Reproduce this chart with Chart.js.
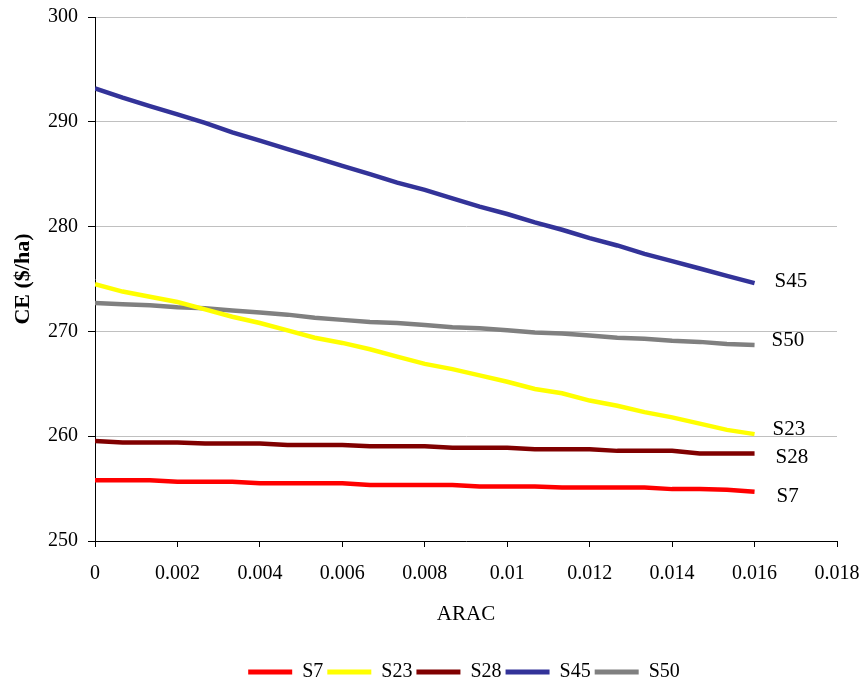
<!DOCTYPE html>
<html>
<head>
<meta charset="utf-8">
<script src="https://cdn.jsdelivr.net/npm/chart.js@4/dist/chart.umd.min.js"></script>
<style>
  html, body { margin: 0; padding: 0; background: #fff; }
  canvas { display: block; }
</style>
</head>
<body>
<canvas id="c" width="864" height="686"></canvas>
<script>
// ---- data ----
const seriesNames = ['S7', 'S23', 'S28', 'S45', 'S50'];
const aracValues = [0, 0.00067, 0.00133, 0.002, 0.00267, 0.00333, 0.004, 0.00467, 0.00533,
  0.006, 0.00667, 0.00733, 0.008, 0.00867, 0.00933, 0.01, 0.01067, 0.01133, 0.012,
  0.01267, 0.01333, 0.014, 0.01467, 0.01533, 0.016];
const s7 = [255.8, 255.8, 255.8, 255.65, 255.65, 255.65, 255.5, 255.5, 255.5, 255.5,
  255.35, 255.35, 255.35, 255.35, 255.2, 255.2, 255.2, 255.1, 255.1, 255.1, 255.1,
  254.95, 254.95, 254.9, 254.7];
const s23 = [274.5, 273.8, 273.3, 272.8, 272.1, 271.4, 270.8, 270.1, 269.4, 268.9,
  268.3, 267.6, 266.9, 266.4, 265.8, 265.2, 264.5, 264.1, 263.4, 262.9, 262.3,
  261.8, 261.2, 260.6, 260.2];
const s28 = [259.55, 259.4, 259.4, 259.4, 259.3, 259.3, 259.3, 259.15, 259.15, 259.15,
  259.05, 259.05, 259.05, 258.9, 258.9, 258.9, 258.75, 258.75, 258.75, 258.6, 258.6,
  258.6, 258.35, 258.35, 258.35];
const s45 = [293.2, 292.3, 291.5, 290.7, 289.9, 289.0, 288.2, 287.4, 286.6, 285.8,
  285.0, 284.2, 283.5, 282.7, 281.9, 281.2, 280.4, 279.7, 278.9, 278.2, 277.4,
  276.7, 276.0, 275.3, 274.6];
const s50 = [272.7, 272.6, 272.5, 272.3, 272.2, 272.0, 271.8, 271.6, 271.3, 271.1,
  270.9, 270.8, 270.6, 270.4, 270.3, 270.1, 269.9, 269.8, 269.6, 269.4, 269.3,
  269.1, 269.0, 268.8, 268.7];
const xTickLabels = ['0', '0.002', '0.004', '0.006', '0.008', '0.01', '0.012', '0.014', '0.016', '0.018'];
const yTickLabels = ['250', '260', '270', '280', '290', '300'];
const xTitle = 'ARAC';
const yTitle = 'CE ($/ha)';

// ---- styles ----
const seriesValues = [s7, s23, s28, s45, s50];
const seriesColors = ['#FF0000', '#FFFF00', '#800000', '#333399', '#808080'];
const FONT = "'Liberation Serif', 'Times New Roman', serif";
Chart.defaults.font.family = FONT;
Chart.defaults.color = '#000';

const datasets = seriesNames.map((name, i) => ({
  label: name,
  data: aracValues.map((x, j) => ({ x: x, y: seriesValues[i][j] })),
  borderColor: seriesColors[i],
  backgroundColor: seriesColors[i],
  borderWidth: 4.5,
  pointRadius: 0,
  tension: 0,
  fill: false
}));

// label offsets relative to each series' last point (style only)
const endLabelOffsets = { S7: [22, 5], S23: [18, -5], S28: [21, 4], S45: [20, -2], S50: [17, -5] };

const endLabels = {
  id: 'endLabels',
  afterDatasetsDraw(chart) {
    const ctx = chart.ctx;
    ctx.save();
    ctx.font = "21px " + FONT;
    ctx.fillStyle = '#000';
    ctx.textAlign = 'left';
    ctx.textBaseline = 'middle';
    chart.data.datasets.forEach((ds, i) => {
      const meta = chart.getDatasetMeta(i);
      const pt = meta.data[meta.data.length - 1];
      const off = endLabelOffsets[ds.label] || [18, 0];
      ctx.fillText(ds.label, pt.x + off[0], pt.y + off[1]);
    });
    ctx.restore();
  }
};

const legendPlace = {
  id: 'legendPlace',
  afterLayout(chart) {
    const l = chart.legend;
    if (!l) return;
    const pad = l.options.labels.padding;
    const cx = (l.left + pad + l.right) / 2;
    const dx = 466 - cx;
    l.left += dx; l.right += dx;
    const ih = (l.legendHitBoxes && l.legendHitBoxes[0]) ? l.legendHitBoxes[0].height : 20;
    const cy = l.top + pad + ih / 2;
    const dy = 672 - cy;
    l.top += dy; l.bottom += dy;
  }
};

new Chart(document.getElementById('c'), {
  type: 'line',
  data: { datasets: datasets },
  plugins: [endLabels, legendPlace],
  options: {
    responsive: false,
    devicePixelRatio: 1,
    animation: false,
    layout: { padding: { left: 0, right: 27, top: 17, bottom: 0 } },
    plugins: {
      tooltip: { enabled: false },
      legend: {
        display: true,
        position: 'bottom',
        labels: {
          boxWidth: 44,
          boxHeight: 5,
          padding: 4,
          font: { size: 20, family: FONT },
          color: '#000',
          generateLabels(chart) {
            const items = Chart.defaults.plugins.legend.labels.generateLabels(chart);
            return items.map(it => Object.assign(it, { lineWidth: 0, fillStyle: it.strokeStyle }));
          }
        }
      }
    },
    scales: {
      x: {
        type: 'linear',
        min: 0,
        max: 0.018,
        afterFit(scale) {
          const lh = scale.chart.legend ? scale.chart.legend.height : 35;
          scale.height = 686 - 541 - lh;
          scale.paddingLeft = 0;
          scale.paddingRight = 0;
        },
        afterBuildTicks(scale) {
          scale.ticks = xTickLabels.map(t => ({ value: parseFloat(t) }));
        },
        ticks: {
          callback: (v, i) => xTickLabels[i],
          font: { size: 20, family: FONT },
          color: '#000',
          padding: 15,
          maxRotation: 0,
          autoSkip: false
        },
        grid: {
          drawOnChartArea: false,
          drawTicks: true,
          tickLength: 6,
          tickColor: '#000',
          color: '#000'
        },
        border: { display: true, color: '#000', width: 1 },
        title: {
          display: true,
          text: xTitle,
          font: { size: 21, family: FONT },
          color: '#000',
          padding: { top: 0, bottom: 25 }
        }
      },
      y: {
        type: 'linear',
        min: 250,
        max: 300,
        afterFit(scale) {
          scale.width = 95;
          scale.paddingTop = 0;
          scale.paddingBottom = 0;
        },
        afterBuildTicks(scale) {
          scale.ticks = yTickLabels.map(t => ({ value: parseFloat(t) }));
        },
        ticks: {
          callback: (v, i) => yTickLabels[i],
          font: { size: 20, family: FONT },
          color: '#000',
          padding: 10
        },
        grid: {
          color: '#c0c0c0',
          lineWidth: 1,
          drawTicks: true,
          tickLength: 7,
          tickColor: '#000'
        },
        border: { display: true, color: '#000', width: 1 },
        title: {
          display: true,
          text: yTitle,
          font: { size: 22, weight: 'bold', family: FONT },
          color: '#000',
          padding: { top: 10, bottom: 0 }
        }
      }
    }
  }
});
</script>
</body>
</html>
